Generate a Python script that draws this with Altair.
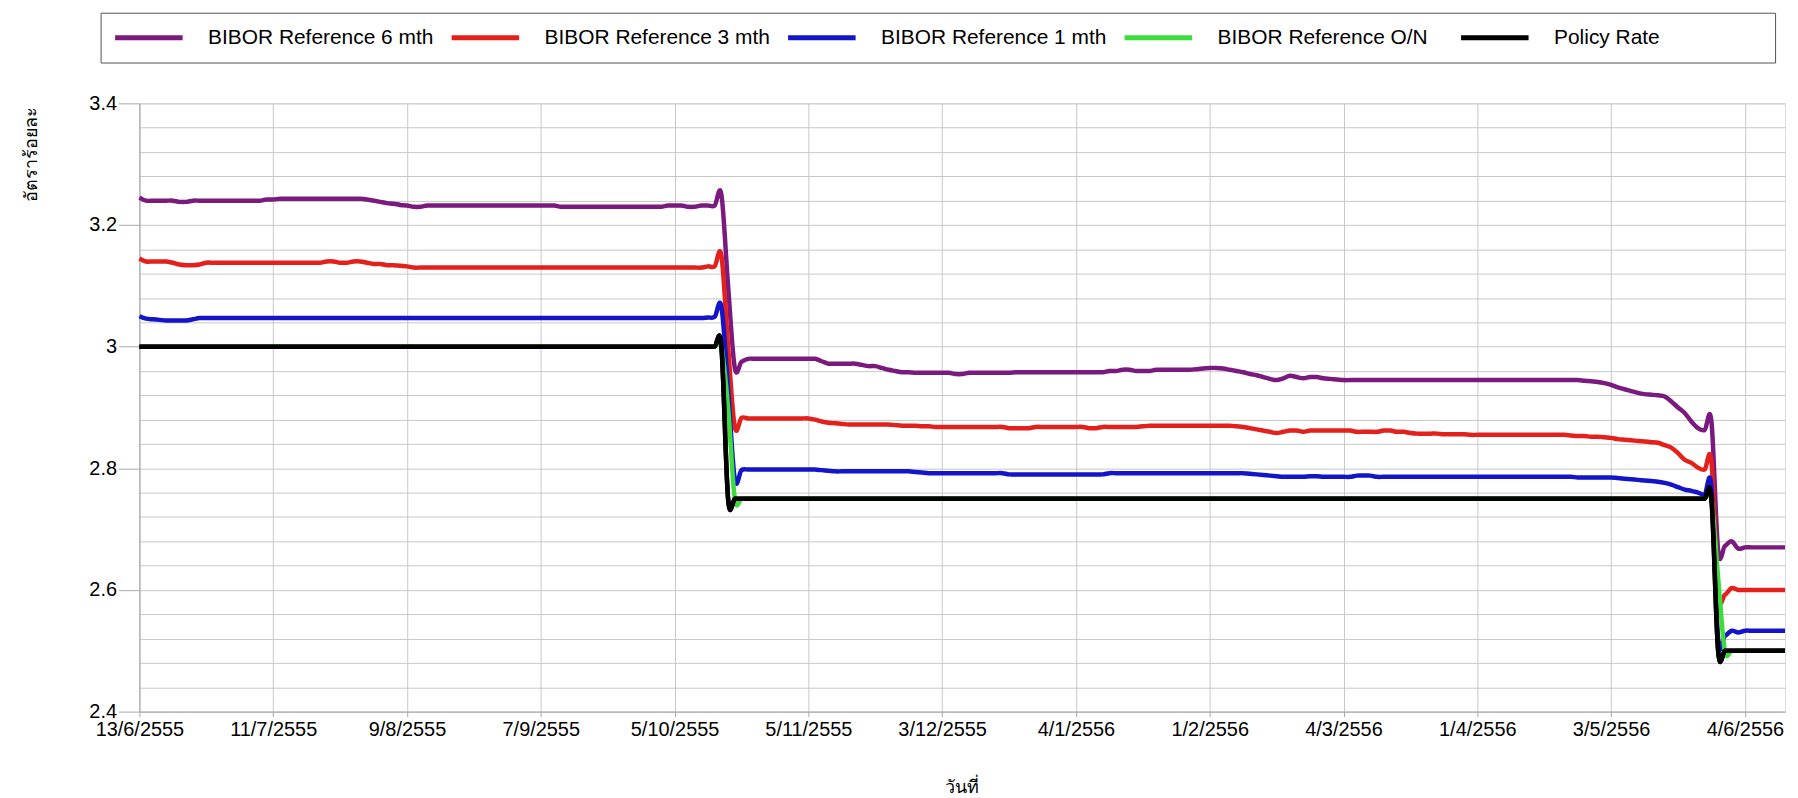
import json
import altair as alt
import pandas as pd

# ---------------- data ----------------
TICK_LABELS = ["13/6/2555", "11/7/2555", "9/8/2555", "7/9/2555", "5/10/2555",
               "5/11/2555", "3/12/2555", "4/1/2556", "1/2/2556", "4/3/2556",
               "1/4/2556", "3/5/2556", "4/6/2556"]
TICK_STEP = 20  # business days between labelled ticks

SERIES_NAMES = ["BIBOR Reference 6 mth", "BIBOR Reference 3 mth",
                "BIBOR Reference 1 mth", "BIBOR Reference O/N", "Policy Rate"]
SERIES_COLORS = ["#7b1a7e", "#e3201c", "#1414c8", "#3cdc3c", "#000000"]

BIBOR_6M = [
    3.245, 3.24, 3.24, 3.24, 3.24, 3.24, 3.238, 3.238, 3.24, 3.24, 3.24, 3.24, 3.24, 3.24, 3.24, 3.24, 3.24, 3.24, 3.24, 3.242,
    3.242, 3.243, 3.243, 3.243, 3.243, 3.243, 3.243, 3.243, 3.243, 3.243, 3.243, 3.243, 3.243, 3.243, 3.242, 3.24, 3.238, 3.236, 3.235, 3.233,
    3.232, 3.23, 3.23, 3.232, 3.232, 3.232, 3.232, 3.232, 3.232, 3.232, 3.232, 3.232, 3.232, 3.232, 3.232, 3.232, 3.232, 3.232, 3.232, 3.232,
    3.232, 3.232, 3.232, 3.23, 3.23, 3.23, 3.23, 3.23, 3.23, 3.23, 3.23, 3.23, 3.23, 3.23, 3.23, 3.23, 3.23, 3.23, 3.23, 3.232,
    3.232, 3.232, 3.23, 3.23, 3.232, 3.232, 3.232, 3.25, 3.10, 2.965, 2.975, 2.98, 2.98, 2.98, 2.98, 2.98, 2.98, 2.98, 2.98, 2.98,
    2.98, 2.98, 2.976, 2.972, 2.972, 2.972, 2.972, 2.972, 2.97, 2.968, 2.968, 2.965, 2.962, 2.96, 2.958, 2.958, 2.957, 2.957, 2.957, 2.957,
    2.957, 2.957, 2.955, 2.955, 2.957, 2.957, 2.957, 2.957, 2.957, 2.957, 2.957, 2.958, 2.958, 2.958, 2.958, 2.958, 2.958, 2.958, 2.958, 2.958,
    2.958, 2.958, 2.958, 2.958, 2.958, 2.96, 2.96, 2.962, 2.962, 2.96, 2.96, 2.96, 2.962, 2.962, 2.962, 2.962, 2.962, 2.962, 2.963, 2.964,
    2.965, 2.965, 2.964, 2.962, 2.96, 2.958, 2.955, 2.953, 2.95, 2.947, 2.945, 2.948, 2.952, 2.95, 2.948, 2.95, 2.95, 2.948, 2.947, 2.946,
    2.945, 2.945, 2.945, 2.945, 2.945, 2.945, 2.945, 2.945, 2.945, 2.945, 2.945, 2.945, 2.945, 2.945, 2.945, 2.945, 2.945, 2.945, 2.945, 2.945,
    2.945, 2.945, 2.945, 2.945, 2.945, 2.945, 2.945, 2.945, 2.945, 2.945, 2.945, 2.945, 2.945, 2.945, 2.945, 2.945, 2.944, 2.943, 2.942, 2.94,
    2.937, 2.933, 2.93, 2.927, 2.924, 2.922, 2.921, 2.92, 2.918, 2.91, 2.9, 2.891, 2.877, 2.866, 2.863, 2.877, 2.665, 2.672, 2.68, 2.668,
    2.67, 2.67, 2.67, 2.67, 2.67, 2.67, 2.67,
]

BIBOR_3M = [
    3.145, 3.14, 3.14, 3.14, 3.14, 3.138, 3.135, 3.134, 3.134, 3.135, 3.138, 3.138, 3.138, 3.138, 3.138, 3.138, 3.138, 3.138, 3.138, 3.138,
    3.138, 3.138, 3.138, 3.138, 3.138, 3.138, 3.138, 3.138, 3.14, 3.14, 3.138, 3.138, 3.14, 3.14, 3.138, 3.136, 3.136, 3.134, 3.134, 3.133,
    3.132, 3.13, 3.13, 3.13, 3.13, 3.13, 3.13, 3.13, 3.13, 3.13, 3.13, 3.13, 3.13, 3.13, 3.13, 3.13, 3.13, 3.13, 3.13, 3.13,
    3.13, 3.13, 3.13, 3.13, 3.13, 3.13, 3.13, 3.13, 3.13, 3.13, 3.13, 3.13, 3.13, 3.13, 3.13, 3.13, 3.13, 3.13, 3.13, 3.13,
    3.13, 3.13, 3.13, 3.13, 3.13, 3.132, 3.132, 3.15, 3.0, 2.868, 2.883, 2.882, 2.882, 2.882, 2.882, 2.882, 2.882, 2.882, 2.882, 2.882,
    2.882, 2.88, 2.877, 2.875, 2.874, 2.873, 2.872, 2.872, 2.872, 2.872, 2.872, 2.872, 2.872, 2.871, 2.87, 2.87, 2.87, 2.869, 2.869, 2.868,
    2.868, 2.868, 2.868, 2.868, 2.868, 2.868, 2.868, 2.868, 2.868, 2.868, 2.866, 2.866, 2.866, 2.866, 2.868, 2.868, 2.868, 2.868, 2.868, 2.868,
    2.868, 2.868, 2.866, 2.866, 2.868, 2.868, 2.868, 2.868, 2.868, 2.868, 2.869, 2.87, 2.87, 2.87, 2.87, 2.87, 2.87, 2.87, 2.87, 2.87,
    2.87, 2.87, 2.87, 2.87, 2.869, 2.868, 2.866, 2.864, 2.862, 2.86, 2.858, 2.86, 2.862, 2.862, 2.86, 2.862, 2.862, 2.862, 2.862, 2.862,
    2.862, 2.862, 2.86, 2.86, 2.86, 2.86, 2.862, 2.862, 2.86, 2.86, 2.858, 2.857, 2.857, 2.857, 2.857, 2.856, 2.856, 2.856, 2.856, 2.855,
    2.855, 2.855, 2.855, 2.855, 2.855, 2.855, 2.855, 2.855, 2.855, 2.855, 2.855, 2.855, 2.855, 2.855, 2.854, 2.853, 2.853, 2.852, 2.852, 2.851,
    2.85, 2.848, 2.847, 2.846, 2.845, 2.844, 2.843, 2.842, 2.838, 2.834, 2.825, 2.814, 2.809, 2.801, 2.798, 2.811, 2.595, 2.592, 2.603, 2.6,
    2.6, 2.6, 2.6, 2.6, 2.6, 2.6, 2.6,
]

BIBOR_1M = [
    3.05, 3.046, 3.045, 3.044, 3.043, 3.043, 3.043, 3.043, 3.045, 3.047, 3.047, 3.047, 3.047, 3.047, 3.047, 3.047, 3.047, 3.047, 3.047, 3.047,
    3.047, 3.047, 3.047, 3.047, 3.047, 3.047, 3.047, 3.047, 3.047, 3.047, 3.047, 3.047, 3.047, 3.047, 3.047, 3.047, 3.047, 3.047, 3.047, 3.047,
    3.047, 3.047, 3.047, 3.047, 3.047, 3.047, 3.047, 3.047, 3.047, 3.047, 3.047, 3.047, 3.047, 3.047, 3.047, 3.047, 3.047, 3.047, 3.047, 3.047,
    3.047, 3.047, 3.047, 3.047, 3.047, 3.047, 3.047, 3.047, 3.047, 3.047, 3.047, 3.047, 3.047, 3.047, 3.047, 3.047, 3.047, 3.047, 3.047, 3.047,
    3.047, 3.047, 3.047, 3.047, 3.047, 3.048, 3.049, 3.066, 2.93, 2.782, 2.797, 2.798, 2.798, 2.798, 2.798, 2.798, 2.798, 2.798, 2.798, 2.798,
    2.798, 2.798, 2.797, 2.796, 2.795, 2.795, 2.795, 2.795, 2.795, 2.795, 2.795, 2.795, 2.795, 2.795, 2.795, 2.795, 2.794, 2.793, 2.792, 2.792,
    2.792, 2.792, 2.792, 2.792, 2.792, 2.792, 2.792, 2.792, 2.792, 2.792, 2.79, 2.79, 2.79, 2.79, 2.79, 2.79, 2.79, 2.79, 2.79, 2.79,
    2.79, 2.79, 2.79, 2.79, 2.79, 2.792, 2.792, 2.792, 2.792, 2.792, 2.792, 2.792, 2.792, 2.792, 2.792, 2.792, 2.792, 2.792, 2.792, 2.792,
    2.792, 2.792, 2.792, 2.792, 2.792, 2.792, 2.791, 2.79, 2.789, 2.788, 2.787, 2.786, 2.786, 2.786, 2.786, 2.787, 2.787, 2.786, 2.786, 2.786,
    2.786, 2.786, 2.788, 2.788, 2.788, 2.786, 2.786, 2.786, 2.786, 2.786, 2.786, 2.786, 2.786, 2.786, 2.786, 2.786, 2.786, 2.786, 2.786, 2.786,
    2.786, 2.786, 2.786, 2.786, 2.786, 2.786, 2.786, 2.786, 2.786, 2.786, 2.786, 2.786, 2.786, 2.786, 2.786, 2.785, 2.785, 2.785, 2.785, 2.785,
    2.785, 2.784, 2.783, 2.782, 2.781, 2.78, 2.779, 2.778, 2.776, 2.773, 2.769, 2.765, 2.763, 2.76, 2.757, 2.77, 2.52, 2.524, 2.533, 2.53,
    2.533, 2.533, 2.533, 2.533, 2.533, 2.533, 2.533,
]

BIBOR_ON = [
    3.0, 3.0, 3.0, 3.0, 3.0, 3.0, 3.0, 3.0, 3.0, 3.0, 3.0, 3.0, 3.0, 3.0, 3.0, 3.0, 3.0, 3.0, 3.0, 3.0,
    3.0, 3.0, 3.0, 3.0, 3.0, 3.0, 3.0, 3.0, 3.0, 3.0, 3.0, 3.0, 3.0, 3.0, 3.0, 3.0, 3.0, 3.0, 3.0, 3.0,
    3.0, 3.0, 3.0, 3.0, 3.0, 3.0, 3.0, 3.0, 3.0, 3.0, 3.0, 3.0, 3.0, 3.0, 3.0, 3.0, 3.0, 3.0, 3.0, 3.0,
    3.0, 3.0, 3.0, 3.0, 3.0, 3.0, 3.0, 3.0, 3.0, 3.0, 3.0, 3.0, 3.0, 3.0, 3.0, 3.0, 3.0, 3.0, 3.0, 3.0,
    3.0, 3.0, 3.0, 3.0, 3.0, 3.0, 3.0, 3.0, 2.9, 2.75, 2.75, 2.75, 2.75, 2.75, 2.75, 2.75, 2.75, 2.75, 2.75, 2.75,
    2.75, 2.75, 2.75, 2.75, 2.75, 2.75, 2.75, 2.75, 2.75, 2.75, 2.75, 2.75, 2.75, 2.75, 2.75, 2.75, 2.75, 2.75, 2.75, 2.75,
    2.75, 2.75, 2.75, 2.75, 2.75, 2.75, 2.75, 2.75, 2.75, 2.75, 2.75, 2.75, 2.75, 2.75, 2.75, 2.75, 2.75, 2.75, 2.75, 2.75,
    2.75, 2.75, 2.75, 2.75, 2.75, 2.75, 2.75, 2.75, 2.75, 2.75, 2.75, 2.75, 2.75, 2.75, 2.75, 2.75, 2.75, 2.75, 2.75, 2.75,
    2.75, 2.75, 2.75, 2.75, 2.75, 2.75, 2.75, 2.75, 2.75, 2.75, 2.75, 2.75, 2.75, 2.75, 2.75, 2.75, 2.75, 2.75, 2.75, 2.75,
    2.75, 2.75, 2.75, 2.75, 2.75, 2.75, 2.75, 2.75, 2.75, 2.75, 2.75, 2.75, 2.75, 2.75, 2.75, 2.75, 2.75, 2.75, 2.75, 2.75,
    2.75, 2.75, 2.75, 2.75, 2.75, 2.75, 2.75, 2.75, 2.75, 2.75, 2.75, 2.75, 2.75, 2.75, 2.75, 2.75, 2.75, 2.75, 2.75, 2.75,
    2.75, 2.75, 2.75, 2.75, 2.75, 2.75, 2.75, 2.75, 2.75, 2.75, 2.75, 2.75, 2.75, 2.75, 2.75, 2.75, 2.62, 2.5, 2.5, 2.5,
    2.5, 2.5, 2.5, 2.5, 2.5, 2.5, 2.5,
]

POLICY_RATE = [
    3.0, 3.0, 3.0, 3.0, 3.0, 3.0, 3.0, 3.0, 3.0, 3.0, 3.0, 3.0, 3.0, 3.0, 3.0, 3.0, 3.0, 3.0, 3.0, 3.0,
    3.0, 3.0, 3.0, 3.0, 3.0, 3.0, 3.0, 3.0, 3.0, 3.0, 3.0, 3.0, 3.0, 3.0, 3.0, 3.0, 3.0, 3.0, 3.0, 3.0,
    3.0, 3.0, 3.0, 3.0, 3.0, 3.0, 3.0, 3.0, 3.0, 3.0, 3.0, 3.0, 3.0, 3.0, 3.0, 3.0, 3.0, 3.0, 3.0, 3.0,
    3.0, 3.0, 3.0, 3.0, 3.0, 3.0, 3.0, 3.0, 3.0, 3.0, 3.0, 3.0, 3.0, 3.0, 3.0, 3.0, 3.0, 3.0, 3.0, 3.0,
    3.0, 3.0, 3.0, 3.0, 3.0, 3.0, 3.0, 3.0, 2.75, 2.75, 2.75, 2.75, 2.75, 2.75, 2.75, 2.75, 2.75, 2.75, 2.75, 2.75,
    2.75, 2.75, 2.75, 2.75, 2.75, 2.75, 2.75, 2.75, 2.75, 2.75, 2.75, 2.75, 2.75, 2.75, 2.75, 2.75, 2.75, 2.75, 2.75, 2.75,
    2.75, 2.75, 2.75, 2.75, 2.75, 2.75, 2.75, 2.75, 2.75, 2.75, 2.75, 2.75, 2.75, 2.75, 2.75, 2.75, 2.75, 2.75, 2.75, 2.75,
    2.75, 2.75, 2.75, 2.75, 2.75, 2.75, 2.75, 2.75, 2.75, 2.75, 2.75, 2.75, 2.75, 2.75, 2.75, 2.75, 2.75, 2.75, 2.75, 2.75,
    2.75, 2.75, 2.75, 2.75, 2.75, 2.75, 2.75, 2.75, 2.75, 2.75, 2.75, 2.75, 2.75, 2.75, 2.75, 2.75, 2.75, 2.75, 2.75, 2.75,
    2.75, 2.75, 2.75, 2.75, 2.75, 2.75, 2.75, 2.75, 2.75, 2.75, 2.75, 2.75, 2.75, 2.75, 2.75, 2.75, 2.75, 2.75, 2.75, 2.75,
    2.75, 2.75, 2.75, 2.75, 2.75, 2.75, 2.75, 2.75, 2.75, 2.75, 2.75, 2.75, 2.75, 2.75, 2.75, 2.75, 2.75, 2.75, 2.75, 2.75,
    2.75, 2.75, 2.75, 2.75, 2.75, 2.75, 2.75, 2.75, 2.75, 2.75, 2.75, 2.75, 2.75, 2.75, 2.75, 2.75, 2.5, 2.5, 2.5, 2.5,
    2.5, 2.5, 2.5, 2.5, 2.5, 2.5, 2.5,
]

Y_MIN, Y_MAX = 2.4, 3.4
Y_GRID = [2.4, 2.44, 2.48, 2.52, 2.56, 2.6, 2.64, 2.68, 2.72, 2.76, 2.8, 2.84, 2.88,
          2.92, 2.96, 3.0, 3.04, 3.08, 3.12, 3.16, 3.2, 3.24, 3.28, 3.32, 3.36, 3.4]

# ---------------- build the table ----------------
all_series = [BIBOR_6M, BIBOR_3M, BIBOR_1M, BIBOR_ON, POLICY_RATE]
rows = []
for name, vals in zip(SERIES_NAMES, all_series):
    for day, v in enumerate(vals):
        rows.append({"day": day, "rate": v, "series": name})
df = pd.DataFrame(rows)
n_days = len(POLICY_RATE)

tick_values = [i * TICK_STEP for i in range(len(TICK_LABELS))]
label_expr = json.dumps(TICK_LABELS) + "[round(datum.value / %d)]" % TICK_STEP

FONT = "Liberation Sans, Arial, sans-serif"
GRID = "#c8c8c8"
AXIS_GRAY = "#a8a8a8"

is_major = "abs(datum.value * 5 - round(datum.value * 5)) < 0.001"

x_enc = alt.X(
    "day:Q",
    scale=alt.Scale(domain=[0, n_days - 1], nice=False, zero=False),
    axis=alt.Axis(
        values=tick_values, labelExpr=label_expr, grid=True, gridColor=GRID,
        tickColor=AXIS_GRAY, tickSize=5, domainColor=AXIS_GRAY,
        labelFont=FONT, labelFontSize=20, labelColor="#000000", labelPadding=3,
        labelAngle=0, labelFlush=False, labelOverlap=False,
        title="วันที่", titleFontSize=18, titleFontWeight="normal",
        titleColor="#000000", titleX=826, titleY=76, titleBaseline="middle",
        titleAlign="center",
    ),
)
y_enc = alt.Y(
    "rate:Q",
    scale=alt.Scale(domain=[Y_MIN, Y_MAX], nice=False, zero=False),
    axis=alt.Axis(
        values=Y_GRID, labelExpr=f"{is_major} ? format(datum.value, '.1~f') : ''",
        grid=True, gridColor=GRID, tickColor=AXIS_GRAY, tickSize=21,
        tickOpacity={"condition": {"test": is_major, "value": 1}, "value": 0},
        domainColor=AXIS_GRAY, labelFont=FONT, labelFontSize=20,
        labelColor="#000000", labelPadding=2, labelOverlap=False,
        title="อัตราร้อยละ", titleFontSize=18, titleFontWeight="normal",
        titleColor="#000000", titleAngle=-90, titleX=-108, titleY=3,
        titleAlign="right", titleBaseline="middle",
    ),
)
color_enc = alt.Color(
    "series:N",
    scale=alt.Scale(domain=SERIES_NAMES, range=SERIES_COLORS),
    legend=alt.Legend(
        title=" ", titleOrient="right", titlePadding=104,
        orient="none", legendX=-39, legendY=-91,
        direction="horizontal", columns=5, gridAlign="all", columnPadding=15,
        symbolType="stroke", symbolStrokeWidth=5, symbolSize=4600,
        clipHeight=26, labelLimit=0,
        labelFont=FONT, labelFontSize=21, labelColor="#000000", labelOffset=23,
        padding=12, strokeColor="#555555",
    ),
)

base = alt.Chart(df).mark_line(interpolate="cardinal", strokeWidth=4.5).encode(
    x=x_enc, y=y_enc, color=color_enc
)
top = alt.Chart(df).transform_filter(
    alt.datum.series == "Policy Rate"
).mark_line(interpolate="cardinal", strokeWidth=4.5).encode(
    x=x_enc, y=y_enc, color=color_enc
)

chart = alt.layer(base, top).properties(
    width=1653, height=611,
    autosize=alt.AutoSizeParams(type="none"),
    padding={"left": 132, "top": 94, "right": 5, "bottom": 85},
).configure_view(stroke=GRID, strokeWidth=1).configure_legend(
    strokeDash=[2, 3], strokeWidth=1
).configure(background="#ffffff")

chart.save("out.html", embed_options={"renderer": "svg", "actions": False})
